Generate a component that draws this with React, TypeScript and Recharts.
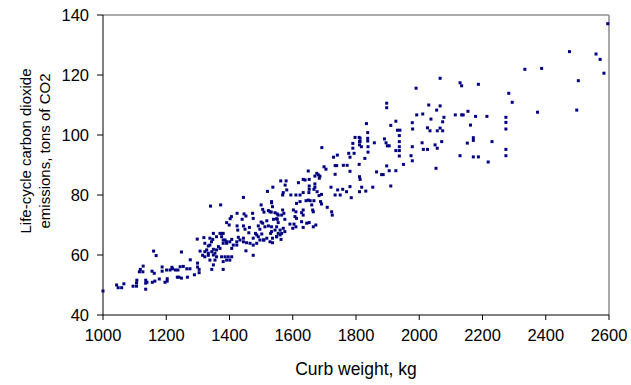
import React from "react";
import { ScatterChart, Scatter, XAxis, YAxis, ReferenceLine } from "recharts";

type Pt = [number, number];

const xTicks = [1000, 1200, 1400, 1600, 1800, 2000, 2200, 2400, 2600];
const yTicks = [40, 60, 80, 100, 120, 140];
const xTitle = "Curb weight, kg";
const yTitleLines = ["Life-cycle carbon dioxide", "emissions, tons of CO2"];

const lightCars: Pt[] = [
  [1000, 48], [1043, 50], [1048, 49.1], [1059, 49.1], [1066, 50.4], [1095, 49.6], [1106, 49.6], [1106, 50.7],
  [1107, 51.6], [1115, 54.4], [1118, 55.2], [1126, 54.4], [1127, 56.3], [1135, 51.6], [1135, 50.6], [1135, 48.6],
  [1139, 50.9], [1155, 54.6], [1160, 61.3], [1162, 53.9], [1156, 50.9], [1164, 51.3], [1168, 59.8], [1178, 52],
  [1187, 56], [1187, 54.6], [1196, 50.9], [1201, 55], [1203, 52.1], [1203, 51.3], [1212, 55], [1218, 55.9],
  [1220, 55.4], [1229, 55], [1237, 55], [1235, 52.6], [1240, 52.6], [1244, 56.1], [1248, 61], [1254, 56.2],
  [1248, 52.3], [1265, 55.4], [1267, 52.6], [1275, 55.4], [1276, 58.4], [1289, 53.4], [1298, 65.3], [1299, 57.3],
  [1299, 56], [1304, 55.2], [1304, 54.1], [1307, 61.3],
];

const compactCars: Pt[] = [
  [1444, 79.2], [1520, 81.2], [1340, 76.3], [1372, 76.7], [1500, 76.7], [1533, 77.4], [1505, 75.2], [1509, 74.3],
  [1523, 74.8], [1532, 74.3], [1551, 73.7], [1424, 73.9], [1446, 73.7], [1452, 73], [1473, 73.9], [1406, 72.8],
  [1402, 72.1], [1440, 71.9], [1475, 72.2], [1500, 71], [1518, 71.4], [1549, 72.1], [1554, 70.8], [1391, 70.8],
  [1399, 70], [1424, 69.7], [1426, 68.3], [1444, 69.7], [1449, 68.6], [1463, 69.2], [1461, 67.4], [1491, 69.7],
  [1496, 68.6], [1505, 70.6], [1512, 69.4], [1523, 69.7], [1533, 67.8], [1549, 69.4], [1554, 67.2], [1482, 67.2],
  [1486, 66.7], [1491, 66.1], [1502, 67], [1509, 65], [1475, 65.6], [1465, 63.9], [1454, 64.1], [1444, 65.6],
  [1444, 64.4], [1428, 65.9], [1433, 65], [1423, 64.4], [1423, 63.3], [1475, 63.3], [1486, 63.9], [1496, 65],
  [1507, 65], [1518, 65.6], [1528, 64.4], [1536, 64.1], [1549, 66.1], [1560, 66.7], [1475, 59.9], [1375, 67.2],
  [1380, 67.2], [1370, 67.2], [1359, 66.1], [1375, 66.1], [1380, 65], [1386, 65], [1391, 64.4], [1349, 67.2],
  [1347, 65.2], [1343, 64.4], [1338, 65.6], [1319, 65.8],
];

const compactLower: Pt[] = [
  [1322, 63.9], [1333, 63], [1338, 63.3], [1328, 61.7], [1322, 61.1], [1333, 60.6], [1344, 61.1], [1349, 61.9],
  [1354, 60.6], [1359, 61.7], [1365, 62.8], [1370, 62.2], [1380, 63.9], [1391, 63.9], [1401, 64.4], [1407, 65.2],
  [1412, 63.3], [1407, 62.2], [1315, 59.9], [1322, 59.4], [1333, 59.9], [1349, 60], [1359, 59.4], [1375, 59.4],
  [1386, 59.4], [1396, 59.4], [1407, 59.4], [1391, 58.3], [1401, 58.3], [1380, 57.8], [1354, 58.3], [1338, 58.3],
  [1349, 56.7], [1344, 55.2], [1380, 55.2], [1452, 61.4],
];

const midCars: Pt[] = [
  [1797, 99.2], [1810, 99.2], [1811, 97.8], [1811, 96.7], [1790, 97.2], [1790, 95.6], [1777, 93.9], [1794, 93.9],
  [1781, 92.6], [1692, 95.8], [1729, 92.6], [1741, 93.3], [1734, 89.8], [1739, 89.8], [1760, 89.9], [1772, 89.9],
  [1699, 89.4], [1705, 88.6], [1734, 86.9], [1781, 87.9], [1810, 90.2], [1649, 88], [1676, 87.2], [1681, 86.7],
  [1670, 86.3], [1686, 86.3], [1684, 85.6], [1633, 85.2], [1639, 85], [1652, 85.2], [1618, 84.1], [1562, 84.7],
  [1579, 84.7], [1576, 83.3], [1537, 82.6], [1811, 86.1], [1811, 81.1], [1652, 83], [1670, 83.7], [1670, 82.6],
  [1667, 81.9], [1652, 81.9], [1651, 80.8], [1633, 80.8], [1623, 80], [1610, 80], [1594, 80], [1570, 80.8],
  [1568, 80], [1581, 81.7], [1721, 82.6], [1742, 81.7], [1758, 81.9], [1770, 81.1], [1781, 82.8], [1785, 79.1],
  [1734, 80], [1750, 80], [1677, 81.1], [1691, 80.2], [1683, 79.8], [1649, 78.3], [1655, 78.1], [1667, 78.1],
  [1642, 78.1], [1688, 77.8], [1691, 77], [1709, 75.9], [1723, 74.4], [1725, 73.3],
  [1660, 76.7], [1663, 75], [1665, 74.4], [1633, 75], [1628, 74.1], [1610, 74.4], [1602, 75], [1612, 77.2],
  [1623, 77.8], [1607, 72.8], [1612, 72.2], [1633, 73.3], [1628, 71.1], [1644, 70.6], [1652, 70.8], [1665, 69.4],
  [1673, 70], [1633, 69.2], [1604, 70.3], [1610, 69.4], [1591, 70.3], [1600, 68.9], [1575, 71.9], [1572, 73.9],
  [1565, 73.3], [1568, 75], [1554, 73.3], [1551, 71.9], [1560, 68.3], [1565, 67.2], [1575, 67.8], [1570, 68.9],
  [1533, 77.8], [1536, 76.1], [1528, 74.4], [1544, 74.1], [1539, 71.9], [1533, 69.4], [1544, 68.3], [1530, 67.2],
  [1549, 66.1], [1536, 65.6], [1563, 65.2],
];

const upperCars: Pt[] = [
  [2066, 118.9], [1990, 115.6], [1897, 110.6], [1897, 109.1], [2030, 110], [2066, 109.7], [2055, 108.3],
  [2078, 105.9], [2074, 104.4], [2114, 106.7], [1992, 106.7], [2011, 107], [2037, 105.3], [1926, 104.6],
  [1910, 103.2], [1978, 104.1], [1979, 102], [2026, 102.4], [2034, 101.4], [2057, 101.4], [2066, 102.3],
  [2074, 101.4], [1833, 103.8], [1931, 101.6], [1939, 101.6], [1937, 99.8], [1937, 97.8], [1937, 96.1],
  [1937, 94.8], [1937, 93], [1926, 94.8], [1837, 100.8], [1837, 98.9], [1837, 98], [1838, 96.1], [1838, 94.3],
  [1858, 97.4], [1813, 98.9], [1813, 97.8], [1817, 96.1], [1890, 98.7], [1895, 97.4], [1899, 96.4], [1905, 96.4],
  [1978, 96.1], [2009, 97.4], [2013, 95.2], [2026, 95.2], [2050, 96.7], [2057, 95.6], [2071, 97.8], [1828, 92.2],
  [1974, 93.1], [1978, 91.4], [1897, 89.7], [1950, 90.2], [2053, 88.9], [1865, 87.7], [1881, 86.8], [1886, 86.8],
  [1905, 88.1], [1926, 88.1], [1910, 83], [1813, 85.2], [1818, 82.6], [1831, 81.3], [1853, 82.6],
];

const heavyCars: Pt[] = [
  [2596, 137.1], [2475, 127.8], [2559, 127], [2572, 125.2], [2584, 120.6], [2503, 118.1], [2334, 121.9],
  [2387, 122.2], [2187, 116.9], [2129, 117.4], [2134, 116.4], [2283, 113.9], [2294, 110.9], [2374, 107.6],
  [2498, 108.3], [2134, 106.7], [2139, 106.7], [2154, 107.9], [2178, 106.2], [2214, 106.2], [2274, 105.9],
  [2274, 104.2], [2274, 102], [2162, 103.3], [2171, 99.1], [2171, 98.2], [2152, 97.3], [2230, 97.8],
  [2129, 93.1], [2171, 92.7], [2187, 92.7], [2218, 91], [2274, 95.2], [2274, 93.1],
];

const data = [...lightCars, ...compactCars, ...compactLower, ...midCars, ...upperCars, ...heavyCars].map(
  ([w, c]) => ({ w, c })
);

const FONT = "'Liberation Sans', Arial, sans-serif";
const TICK_FS = 16.5;
const XTITLE_FS = 17.5;
const YTITLE_FS = 15;

const Marker = (props: any) => {
  const { cx, cy } = props;
  if (cx == null || cy == null) return null;
  return <rect x={cx - 1.5} y={cy - 1.5} width={3} height={3} fill="#000080" />;
};

const YTitle = () => (
  <g>
    {yTitleLines.map((t, i) => (
      <text
        key={i}
        transform={`translate(${25 + i * 19},151) rotate(-90)`}
        textAnchor="middle"
        dominantBaseline="central"
        fontFamily={FONT}
        fontSize={YTITLE_FS}
        fill="#000"
      >
        {t}
      </text>
    ))}
  </g>
);

const XTitle = () => (
  <text x={356} y={369} textAnchor="middle" dominantBaseline="central" fontFamily={FONT} fontSize={XTITLE_FS} fill="#000">
    {xTitle}
  </text>
);

export default function App() {
  return (
    <div style={{ position: "absolute", left: 0, top: 0, width: 631, height: 385, background: "#fff" }}>
      <ScatterChart width={631} height={385} margin={{ top: 15, right: 22, bottom: 0, left: 0 }}>
        <XAxis
          type="number"
          dataKey="w"
          domain={[1000, 2600]}
          ticks={xTicks}
          interval={0}
          height={70}
          axisLine={{ stroke: "#000" }}
          tickLine={{ stroke: "#000" }}
          tickSize={5}
          tickMargin={9}
          tick={{ fill: "#000", fontFamily: FONT, fontSize: TICK_FS }}
          label={{ content: () => <XTitle /> }}
        />
        <YAxis
          type="number"
          dataKey="c"
          domain={[40, 140]}
          ticks={yTicks}
          interval={0}
          width={103}
          axisLine={{ stroke: "#000" }}
          tickLine={{ stroke: "#000" }}
          tickSize={6}
          tickMargin={8}
          tick={{ fill: "#000", fontFamily: FONT, fontSize: TICK_FS }}
          label={{ content: () => <YTitle /> }}
        />
        <ReferenceLine y={140} stroke="#8c8c8c" strokeWidth={1.5} />
        <ReferenceLine x={2600} stroke="#8c8c8c" strokeWidth={1.5} />
        <Scatter data={data} shape={<Marker />} isAnimationActive={false} />
      </ScatterChart>
    </div>
  );
}
